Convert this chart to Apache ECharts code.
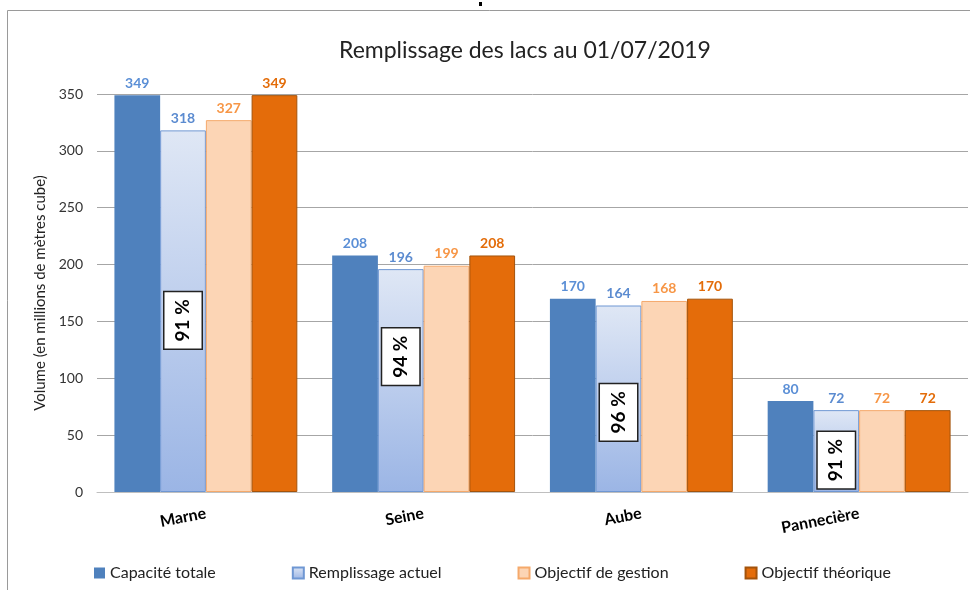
<!DOCTYPE html>
<html>
<head>
<meta charset="utf-8">
<script src="https://cdn.jsdelivr.net/npm/echarts@6/dist/echarts.min.js"></script>
<style>
html,body{margin:0;padding:0;background:#fff;}
#chart{width:970px;height:590px;}
</style>
</head>
<body>
<div id="chart"></div>
<script>
var lacs = ['Marne', 'Seine', 'Aube', 'Pannecière'];
var capaciteTotale = [349, 208, 170, 80];
var remplissageActuel = [318, 196, 164, 72];
var objectifGestion = [327, 199, 168, 72];
var objectifTheorique = [349, 208, 170, 72];
var tauxRemplissage = ['91 %', '94 %', '96 %', '91 %'];
var yTicks = [0, 50, 100, 150, 200, 250, 300, 350];

// hauteur (en valeur d'axe) du centre de chaque cartouche %
var posCartouche = [151, 119, 70, 28];

var police = 'Lato, "Open Sans", sans-serif';

var chart = echarts.init(document.getElementById('chart'));

function serie(nom, valeurs, style, couleurLabel) {
	return {
		name: nom,
		type: 'bar',
		data: valeurs,
		barGap: '0%',
		barCategoryGap: '16%',
		itemStyle: style,
		label: {
			show: true,
			position: 'top',
			distance: 5,
			color: couleurLabel,
			fontFamily: police,
			fontWeight: 'bold',
			fontSize: 14
		}
	};
}

var sRemplissage = serie('Remplissage actuel', remplissageActuel, {
	color: new echarts.graphic.LinearGradient(0, 0, 0, 1, [
		{offset: 0, color: '#dfe7f5'},
		{offset: 1, color: '#9bb5e5'}
	]),
	borderColor: '#6f97d3',
	borderWidth: 1
}, '#5b8bd0');

sRemplissage.markPoint = {
	symbol: 'rect',
	symbolSize: 1,
	itemStyle: {color: 'rgba(0,0,0,0)'},
	label: {
		show: true,
		rotate: 90,
		color: '#000',
		fontFamily: police,
		fontWeight: 'bold',
		fontSize: 19,
		backgroundColor: '#fff',
		borderColor: '#222',
		borderWidth: 1.5,
		padding: [9, 7, 9, 7],
		formatter: function (p) { return p.name; }
	},
	data: lacs.map(function (lac, i) {
		return {name: tauxRemplissage[i], coord: [lac, posCartouche[i]]};
	})
};

var option = {
	backgroundColor: '#fff',
	animation: false,
	textStyle: {fontFamily: police},
	title: {
		text: 'Remplissage des lacs au 01/07/2019',
		left: 334,
		top: 34,
		textStyle: {fontFamily: police, fontWeight: 'normal', fontSize: 23, color: '#222'}
	},
	legend: {
		left: 89,
		top: 560,
		itemWidth: 11,
		itemHeight: 11,
		itemGap: 76,
		icon: 'rect',
		textStyle: {fontFamily: police, fontSize: 16, color: '#222'},
		data: ['Capacité totale', 'Remplissage actuel', 'Objectif de gestion', 'Objectif théorique']
	},
	grid: {left: 97, right: 2, top: 94, bottom: 98},
	xAxis: {
		type: 'category',
		data: lacs,
		axisTick: {show: false},
		axisLine: {lineStyle: {color: '#bfbfbf', width: 1}},
		axisLabel: {
			rotate: 11,
			margin: 21,
			color: '#000',
			fontWeight: 'bold',
			fontSize: 16,
			fontFamily: police
		}
	},
	yAxis: {
		type: 'value',
		min: yTicks[0],
		max: yTicks[yTicks.length - 1],
		interval: yTicks[1] - yTicks[0],
		name: 'Volume (en millions de mètres cube)',
		nameLocation: 'middle',
		nameGap: 46,
		nameTextStyle: {fontFamily: police, fontSize: 15, color: '#222'},
		axisLine: {show: false},
		axisTick: {show: false},
		axisLabel: {color: '#333', fontSize: 14, margin: 14, fontFamily: police},
		splitLine: {lineStyle: {color: '#a6a6a6', width: 1}}
	},
	graphic: [
		{type: 'rect', shape: {x: 7.5, y: 10.5, width: 1000, height: 1000}, style: {fill: 'none', stroke: '#9a9a9a', lineWidth: 1}, silent: true},
		{type: 'rect', shape: {x: 479, y: 2, width: 3, height: 4}, style: {fill: '#000'}, silent: true}
	],
	series: [
		serie('Capacité totale', capaciteTotale, {color: '#4f81bd'}, '#5b8fd6'),
		sRemplissage,
		serie('Objectif de gestion', objectifGestion, {color: '#fcd5b5', borderColor: '#f5a96b', borderWidth: 1}, '#f79646'),
		serie('Objectif théorique', objectifTheorique, {color: '#e46c0a', borderColor: '#a3530b', borderWidth: 1}, '#e36c09')
	]
};

chart.setOption(option);
</script>
</body>
</html>
